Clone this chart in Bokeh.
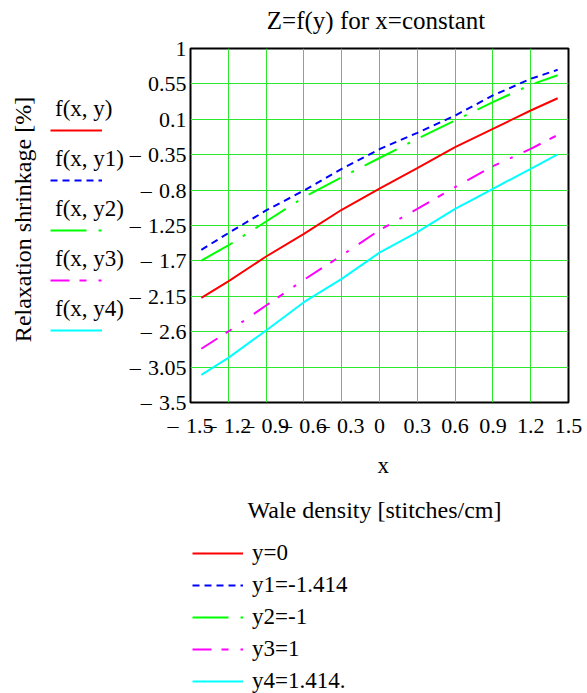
import math
from bokeh.plotting import figure
from bokeh.layouts import column, row
from bokeh.models import (Range1d, FixedTicker, Label, Legend, LegendItem,
                          CustomJSTickFormatter)
from bokeh.embed import file_html
from bokeh.resources import INLINE

# ---------------- data ----------------
x_vals = [-1.414, -1.2, -0.9, -0.6, -0.3, 0.0, 0.3, 0.6, 0.9, 1.2, 1.414]
z_y0 = [-2.17, -1.96, -1.644, -1.356, -1.05, -0.78, -0.521, -0.254, -0.021, 0.212, 0.368]
z_y1 = [-1.559, -1.347, -1.059, -0.805, -0.529, -0.28, -0.072, 0.148, 0.403, 0.615, 0.729]
z_y2 = [-1.695, -1.504, -1.199, -0.89, -0.636, -0.392, -0.148, 0.085, 0.318, 0.539, 0.66]
z_y3 = [-2.817, -2.597, -2.267, -1.94, -1.631, -1.309, -1.038, -0.763, -0.496, -0.275, -0.10]
z_y4 = [-3.148, -2.932, -2.585, -2.225, -1.928, -1.595, -1.335, -1.038, -0.783, -0.529, -0.347]

NEG = "\u2013\u00a0\u200a"  # Mathcad-style minus: dash, then a gap
x_ticks = [-1.5, -1.2, -0.9, -0.6, -0.3, 0.0, 0.3, 0.6, 0.9, 1.2, 1.5]
x_tick_labels = [NEG + "1.5", NEG + "1.2", NEG + "0.9", NEG + "0.6", NEG + "0.3", "0",
                 "0.3", "0.6", "0.9", "1.2", "1.5"]
y_ticks = [1.0, 0.55, 0.1, -0.35, -0.8, -1.25, -1.7, -2.15, -2.6, -3.05, -3.5]
y_tick_labels = ["1", "0.55", "0.1", NEG + "0.35", NEG + "0.8", NEG + "1.25", NEG + "1.7",
                 NEG + "2.15", NEG + "2.6", NEG + "3.05", NEG + "3.5"]

series_names = ["f(x, y)", "f(x, y1)", "f(x, y2)", "f(x, y3)", "f(x, y4)"]
legend_labels = ["y=0", "y1=-1.414", "y2=-1", "y3=1", "y4=1.414."]
title_text = "Z=f(y) for x=constant"
x_label = "x"
x_desc = "Wale density  [stitches/cm]"
y_label = "Relaxation shrinkage [%]"

# ---------------- styles ----------------
FONT = "Liberation Serif"
FS = "23px"
colors = ["#ff0000", "#0000ff", "#00ff00", "#ff00ff", "#00ffff"]
dashes = ["solid", "7 5", "36 12 3 12", "19 10 7 12 3 12", "solid"]
GRID = "#2ee82e"
series = [z_y0, z_y1, z_y2, z_y3, z_y4]


def blank_fig(w, h):
    # helper strip: its frame is the whole strip; the key lines' data lie outside its ranges
    f = figure(width=w, height=h, min_border_left=0, min_border_right=0,
               min_border_top=0, min_border_bottom=0,
               x_axis_location=None, y_axis_location=None,
               x_range=Range1d(10, 11), y_range=Range1d(10, 11),
               toolbar_location=None, output_backend="svg", title=None)
    f.grid.visible = False
    f.outline_line_color = None
    f.background_fill_color = "white"
    f.border_fill_color = "white"
    return f


def text_label(fig, x, y, text, align="center", baseline="alphabetic", angle=0.0, size=FS):
    fig.add_layout(Label(x=x, y=y, x_units="screen", y_units="screen", text=text,
                         angle=angle, text_align=align, text_baseline=baseline,
                         text_font=FONT, text_font_size=size, text_color="black"))


def key_lines(fig):
    out = []
    for zs, c, d in zip(series, colors, dashes):
        out.append(fig.line(x_vals, zs, line_color=c, line_width=2, line_dash=d))
    return out


# ---------------- main plot ----------------
p = figure(frame_width=378, frame_height=354,
           min_border_left=63, min_border_right=20,
           min_border_top=14, min_border_bottom=44,
           x_range=Range1d(-1.5, 1.5), y_range=Range1d(-3.5, 1.0),
           toolbar_location=None, output_backend="svg", title=None)
p.background_fill_color = "white"
p.border_fill_color = "white"
p.outline_line_color = "black"
p.outline_line_width = 2
p.outline_line_alpha = 1.0

fmt_code = """
const i = tv.findIndex(t => Math.abs(t - tick) < 1e-9);
return i >= 0 ? tl[i] : '';
"""
p.xaxis.ticker = FixedTicker(ticks=x_ticks)
p.xaxis.formatter = CustomJSTickFormatter(args=dict(tv=x_ticks, tl=x_tick_labels), code=fmt_code)
p.yaxis.ticker = FixedTicker(ticks=y_ticks)
p.yaxis.formatter = CustomJSTickFormatter(args=dict(tv=y_ticks, tl=y_tick_labels), code=fmt_code)
for ax in (p.xaxis[0], p.yaxis[0]):
    ax.axis_line_color = None
    ax.major_tick_line_color = None
    ax.minor_tick_line_color = None
    ax.major_tick_out = 0
    ax.major_tick_in = 0
    ax.minor_tick_out = 0
    ax.minor_tick_in = 0
    ax.major_label_text_font = FONT
    ax.major_label_text_font_size = "22px"
    ax.major_label_text_color = "black"
p.xaxis.major_label_standoff = 10
p.yaxis.major_label_standoff = 4

p.xgrid.ticker = FixedTicker(ticks=x_ticks)
p.ygrid.ticker = FixedTicker(ticks=y_ticks)
for g in (p.xgrid[0], p.ygrid[0]):
    g.grid_line_color = GRID
    g.grid_line_width = 1
    g.grid_line_alpha = 1.0

key_lines(p)

# ---------------- title strip ----------------
top = blank_fig(587, 34)
text_label(top, 375.5, 14.5, title_text, size="25px")

# ---------------- left strip: y label + series key (frame aligned with main frame) ----------------
left = blank_fig(126, 412)
left_keys = key_lines(left)
left.add_layout(Legend(
    items=[LegendItem(label=" ", renderers=[r]) for r in left_keys],
    location=(50, 57), orientation="vertical",
    glyph_width=52, glyph_height=30, label_height=30, spacing=20,
    label_standoff=0, label_width=0, padding=0, margin=0,
    border_line_color=None, background_fill_alpha=0,
    label_text_font=FONT, label_text_font_size="2px"))
left.add_layout(Legend(
    items=[LegendItem(label=n, renderers=[r]) for n, r in zip(series_names, left_keys)],
    location=(55, 78), orientation="vertical",
    glyph_width=0, glyph_height=30, label_height=30, spacing=20,
    label_standoff=0, padding=0, margin=0,
    border_line_color=None, background_fill_alpha=0,
    label_text_font=FONT, label_text_font_size=FS, label_text_color="black"))
text_label(left, 22, 183, y_label, baseline="middle", angle=math.pi / 2, size="24px")

# ---------------- bottom strip: axis title + legend ----------------
bottom = blank_fig(587, 247)
bottom_keys = key_lines(bottom)
text_label(bottom, 382.7, 228.3, x_label)
text_label(bottom, 377, 184, x_desc, size="24px")
bottom.add_layout(Legend(
    items=[LegendItem(label=l, renderers=[r]) for l, r in zip(legend_labels, bottom_keys)],
    location=(192, -2), orientation="vertical",
    glyph_width=51, glyph_height=28, label_height=28, spacing=4,
    label_standoff=9, padding=0, margin=0,
    border_line_color=None, background_fill_alpha=0,
    label_text_font=FONT, label_text_font_size=FS, label_text_color="black"))

layout = column(top, row(left, p), bottom)
open("out.html", "w").write(file_html(layout, INLINE))
